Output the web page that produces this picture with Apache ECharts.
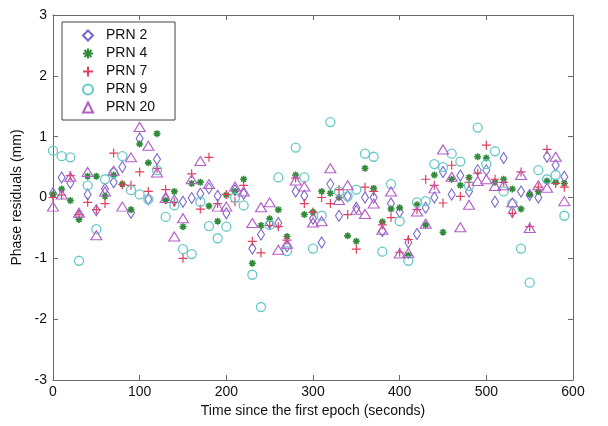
<!DOCTYPE html>
<html><head><meta charset="utf-8">
<script src="https://cdn.jsdelivr.net/npm/echarts@6/dist/echarts.min.js"></script>
<style>html,body{margin:0;padding:0;background:#fff}#c{width:608px;height:426px}</style>
</head><body><div id="c"></div>
<script>
const times = [0,10,20,30,40,50,60,70,80,90,100,110,120,130,140,150,160,170,180,190,200,210,220,230,240,250,260,270,280,290,300,310,320,330,340,350,360,370,380,390,400,410,420,430,440,450,460,470,480,490,500,510,520,530,540,550,560,570,580,590];
const prn2 = [0.07,0.33,0.24,-0.3,0.05,-0.21,0.14,0.25,0.5,-0.25,0.97,-0.03,0.63,-0.01,-0.05,-0.07,-0.01,0.06,0.15,0.03,-0.26,0.12,0.06,-0.84,-0.61,-0.42,-0.42,-0.8,0.1,0.03,-0.35,-0.74,0.22,-0.3,0.02,-0.17,0.0,0.0,-0.55,-0.1,-0.24,-0.74,-0.6,-0.17,0.0,0.42,0.05,0.36,0.1,0.45,0.45,-0.07,0.65,-0.24,0.1,0.04,0.0,0.67,0.53,0.34];
const prn4 = [0.05,0.14,-0.05,-0.36,0.35,0.35,0.02,0.37,0.22,-0.2,0.88,0.57,1.05,-0.05,0.1,-0.48,0.23,0.25,-0.14,-0.39,0.04,0.1,0.3,-1.08,-0.46,-0.35,-0.2,-0.64,0.37,-0.28,-0.24,0.1,0.07,0.0,-0.63,-0.72,0.48,0.15,-0.4,-0.19,-0.17,-0.95,-0.12,-0.45,0.37,-0.57,0.3,0.2,0.33,0.67,0.65,0.25,0.3,0.14,-0.19,0.05,0.1,0.27,0.25,0.23];
const prn7 = [0.0,0.04,0.36,-0.28,-0.08,-0.2,-0.1,0.73,0.21,0.2,0.42,0.1,0.48,0.13,-0.08,-1.0,0.39,-0.19,0.66,-0.1,0.05,-0.07,0.2,-0.72,-0.91,-0.46,-0.48,-0.7,0.32,-0.1,-0.24,0.0,-0.1,0.13,-0.28,-0.85,0.17,0.1,-0.45,-0.33,-0.9,-0.69,-0.2,0.3,0.2,-0.09,0.53,0.02,0.25,0.4,0.86,0.3,0.25,-0.26,0.42,-0.48,0.17,0.79,0.23,0.17];
const prn9 = [0.77,0.68,0.66,-1.04,0.2,-0.52,0.3,0.4,0.68,0.12,0.05,-0.03,0.45,-0.32,-0.13,-0.85,-0.93,-0.07,-0.47,-0.67,-0.48,0.0,-0.13,-1.27,-1.8,-0.45,0.33,-0.88,0.82,0.33,-0.84,-0.3,1.24,0.1,0.02,0.13,0.72,0.67,-0.89,0.22,-0.39,-1.04,-0.08,-0.06,0.55,0.5,0.72,0.59,0.19,1.15,0.55,0.76,0.1,-0.1,-0.84,-1.4,0.45,0.3,0.37,-0.3];
const prn20 = [-0.15,0.05,0.34,-0.25,0.42,-0.62,0.1,0.44,-0.15,0.66,1.16,0.85,0.41,-0.01,-0.64,-0.34,0.3,0.6,0.22,-0.15,-0.15,0.18,0.1,-0.42,-0.16,-0.08,-0.86,-0.76,0.28,0.18,-0.41,-0.39,0.48,-0.04,0.2,-0.2,-0.27,-0.1,-0.53,0.1,-0.92,-0.91,-0.23,-0.43,0.15,0.79,0.34,-0.49,-0.12,0.27,0.3,0.19,0.2,-0.08,0.37,-0.5,0.2,0.16,0.67,-0.06];
const seriesNames = ['PRN 2','PRN 4','PRN 7','PRN 9','PRN 20'];
const xTicks = [0,100,200,300,400,500,600];
const yTicks = [-3,-2,-1,0,1,2,3];

const chart = echarts.init(document.getElementById('c'), null, {renderer:'canvas'});
const pair = arr => times.map((t,i)=>[t, arr[i]]);
const frame = '#6a6a6a';
const font = 'Liberation Sans, Arial, sans-serif';
function mk(name, arr, symbol, size, color, bw){
  return {name, type:'scatter', data: pair(arr), symbol, symbolSize: size,
    itemStyle:{color:'rgba(0,0,0,0)', borderColor: color, borderWidth: bw, opacity:1},
    emphasis:{disabled:true}, z: 3};
}
const lineAx = {show:true, onZero:false, lineStyle:{color:frame, width:1}};
const tickAx = {show:true, inside:true, length:5, lineStyle:{color:frame}};
const option = {
  animation:false,
  grid:{left:53, right:35, top:15, bottom:46, show:false},
  legend:{
    orient:'vertical', left:62, top:22, data: seriesNames,
    backgroundColor:'#fff', borderColor:'#444', borderWidth:1,
    padding:[6,20,5,20], itemGap:3, itemWidth:10, itemHeight:10,
    textStyle:{fontSize:14, color:'#111', fontFamily:font, padding:[0,0,0,8], lineHeight:15}
  },
  xAxis:[
    {type:'value', min:0, max:600, interval:100, position:'bottom',
     name:'Time since the first epoch (seconds)', nameLocation:'middle', nameGap:22,
     nameTextStyle:{fontSize:14, color:'#111', fontFamily:font},
     axisLine:lineAx, axisTick:tickAx,
     axisLabel:{fontSize:14, color:'#111', fontFamily:font, margin:5,
       formatter: v => xTicks.includes(v) ? String(v) : ''},
     splitLine:{show:false}},
    {type:'value', min:0, max:600, interval:100, position:'top',
     axisLine:lineAx, axisTick:tickAx,
     axisLabel:{show:false}, splitLine:{show:false}}
  ],
  yAxis:[
    {type:'value', min:-3, max:3, interval:1, position:'left',
     name:'Phase residuals (mm)', nameLocation:'middle', nameGap:24,
     nameTextStyle:{fontSize:14, color:'#111', fontFamily:font},
     axisLine:lineAx, axisTick:tickAx,
     axisLabel:{fontSize:14, color:'#111', fontFamily:font, margin:6,
       formatter: v => yTicks.includes(v) ? String(v) : ''},
     splitLine:{show:false}},
    {type:'value', min:-3, max:3, interval:1, position:'right',
     axisLine:lineAx, axisTick:tickAx,
     axisLabel:{show:false}, splitLine:{show:false}}
  ],
  series:[
    mk('PRN 2', prn2, 'diamond', [7,11], '#7565c9', 1.1),
    mk('PRN 4', prn4, 'path://M5,0V10M0,5H10M1.5,1.5L8.5,8.5M8.5,1.5L1.5,8.5', 7, '#2f8a3a', 1.6),
    mk('PRN 7', prn7, 'path://M5,0V10M0,5H10', 9, '#e0405e', 1.2),
    mk('PRN 9', prn9, 'circle', 9, '#66c8c8', 1.3),
    mk('PRN 20', prn20, 'triangle', [11,9], '#b45cc8', 1.1)
  ]
};
chart.setOption(option);
</script>
</body></html>
